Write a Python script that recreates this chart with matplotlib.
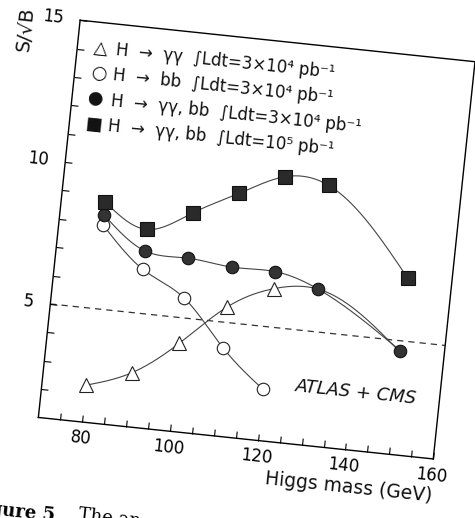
import numpy as np
import matplotlib
matplotlib.use("Agg")
import matplotlib.pyplot as plt
from matplotlib.transforms import Affine2D
import mpl_toolkits.axisartist.floating_axes as floating_axes
from mpl_toolkits.axisartist.grid_finder import FixedLocator, DictFormatter

# ---------------- data ----------------
mass_gg = [80, 90, 100, 110, 120, 130, 150]
sb_gg = [2.3, 2.9, 4.1, 5.55, 6.35, 6.5, 4.6]          # H -> gamma gamma, 3e4 pb^-1

mass_bb = [80, 90, 100, 110, 120]
sb_bb = [7.95, 6.55, 5.7, 4.1, 2.8]                     # H -> bb, 3e4 pb^-1

mass_comb = [80, 90, 100, 110, 120, 130, 150]
sb_comb_3e4 = [8.3, 7.2, 7.1, 6.95, 6.95, 6.5, 4.65]    # combined, 3e4 pb^-1
sb_comb_1e5 = [8.75, 7.95, 8.7, 9.55, 10.3, 10.15, 7.2] # combined, 1e5 pb^-1

x_range = (70, 160)
y_range = (1, 15)
x_ticks = list(range(75, 161, 5))
x_tick_labels = {80: "80", 100: "100", 120: "120", 140: "140", 160: "160"}
y_ticks = list(range(2, 16))
y_tick_labels = {5: "5", 10: "10", 15: "15"}
threshold = 5

legend_rows = [
    ("△", "H  →  γγ  ∫Ldt=3×10⁴ pb⁻¹"),
    ("○", "H  →  bb  ∫Ldt=3×10⁴ pb⁻¹"),
    ("●", "H  →  γγ, bb  ∫Ldt=3×10⁴ pb⁻¹"),
    ("■", "H  →  γγ, bb  ∫Ldt=10⁵ pb⁻¹"),
]


def natural_spline(x, y, n=300):
    x = np.asarray(x, float)
    y = np.asarray(y, float)
    k = len(x)
    h = np.diff(x)
    A = np.zeros((k, k))
    r = np.zeros(k)
    A[0, 0] = 1
    A[-1, -1] = 1
    for i in range(1, k - 1):
        A[i, i - 1] = h[i - 1]
        A[i, i] = 2 * (h[i - 1] + h[i])
        A[i, i + 1] = h[i]
        r[i] = 6 * ((y[i + 1] - y[i]) / h[i] - (y[i] - y[i - 1]) / h[i - 1])
    M = np.linalg.solve(A, r)
    xs = np.linspace(x[0], x[-1], n)
    idx = np.clip(np.searchsorted(x, xs) - 1, 0, k - 2)
    x0, x1 = x[idx], x[idx + 1]
    hh = x1 - x0
    t0 = x1 - xs
    t1 = xs - x0
    ys = (M[idx] * t0 ** 3 / (6 * hh) + M[idx + 1] * t1 ** 3 / (6 * hh)
          + (y[idx] / hh - M[idx] * hh / 6) * t0
          + (y[idx + 1] / hh - M[idx + 1] * hh / 6) * t1)
    return xs, ys


# ---------------- figure ----------------
W_PX, H_PX = 475, 518
fig = plt.figure(figsize=(W_PX / 100, H_PX / 100), dpi=100)
fig.patch.set_facecolor("white")

ANGLE = -6.0
tr = Affine2D().scale(4.5, 29.1).rotate_deg(ANGLE)

corners = tr.transform([[x_range[0], y_range[0]], [x_range[1], y_range[0]],
                        [x_range[0], y_range[1]], [x_range[1], y_range[1]]])
xmin, ymin = corners.min(axis=0)
xmax, ymax = corners.max(axis=0)
bl_px = (34, 97)  # display position of the lower-left corner
left_px = bl_px[0] - (corners[0, 0] - xmin)
bottom_px = bl_px[1] - (corners[0, 1] - ymin)
rect = [left_px / W_PX, bottom_px / H_PX, (xmax - xmin) / W_PX, (ymax - ymin) / H_PX]

grid_helper = floating_axes.GridHelperCurveLinear(
    tr, extremes=(x_range[0], x_range[1], y_range[0], y_range[1]),
    grid_locator1=FixedLocator(x_ticks), grid_locator2=FixedLocator(y_ticks),
    tick_formatter1=DictFormatter(x_tick_labels),
    tick_formatter2=DictFormatter(y_tick_labels))

ax = fig.add_axes(rect, axes_class=floating_axes.FloatingAxes, grid_helper=grid_helper)
ax.patch.set_visible(False)
for side in ["top", "right"]:
    ax.axis[side].major_ticks.set_visible(False)
    ax.axis[side].major_ticklabels.set_visible(False)
    ax.axis[side].line.set_linewidth(1.0)
for side in ["left", "bottom"]:
    ax.axis[side].major_ticks.set_ticksize(5)
    ax.axis[side].major_ticks.set_linewidth(0.9)
    ax.axis[side].major_ticklabels.set_fontsize(12)
    ax.axis[side].line.set_linewidth(1.0)
ax.axis["bottom"].major_ticklabels.set_pad(6)
ax.axis["left"].major_ticklabels.set_pad(12)

aux = ax.get_aux_axes(tr)

line_kw = dict(color="#444444", lw=0.8, zorder=2)

xs, ys = natural_spline(mass_gg, sb_gg)
aux.plot(xs, ys, **line_kw)
xs, ys = natural_spline(mass_bb, sb_bb)
aux.plot(xs, ys, **line_kw)
xs, ys = natural_spline(mass_comb, sb_comb_3e4)
aux.plot(xs, ys, **line_kw)
xs, ys = natural_spline(mass_comb, sb_comb_1e5)
aux.plot(xs, ys, **line_kw)

aux.plot([x_range[0], x_range[1]], [threshold, threshold], color="#333333",
         lw=0.9, ls=(0, (5, 4)), zorder=1)

aux.plot(mass_gg, sb_gg, ls="none", marker="^", ms=9.5, mfc="white", mec="#222222",
         mew=0.8, markevery=[0, 1, 2, 3, 4], zorder=3)
aux.plot(mass_bb, sb_bb, ls="none", marker="o", ms=9, mfc="white", mec="#222222",
         mew=0.8, zorder=3)
aux.plot(mass_comb, sb_comb_3e4, ls="none", marker="o", ms=9, mfc="#333333",
         mec="#111111", mew=0.8, zorder=4)
aux.plot(mass_comb, sb_comb_1e5, ls="none", marker="s", ms=9.5, mfc="#2a2a2a",
         mec="#111111", mew=0.8, zorder=4)

# legend rows
row_y = [14.08, 13.2, 12.3, 11.4]
for (glyph, label), yy in zip(legend_rows, row_y):
    aux.text(75.4, yy, glyph, fontsize=13, rotation=ANGLE, rotation_mode="anchor",
             ha="center", va="center", color="#111111")
    aux.text(78.8, yy, label, fontsize=12, rotation=ANGLE, rotation_mode="anchor",
             ha="left", va="center", color="#111111")

aux.text(141.1, 3.05, "ATLAS + CMS", fontsize=13, style="italic", rotation=ANGLE,
         rotation_mode="anchor", ha="center", va="center", color="#111111")
aux.text(141.5, -0.3, "Higgs mass (GeV)", fontsize=13.5, rotation=ANGLE,
         rotation_mode="anchor", ha="center", va="center", color="#111111")
aux.text(58.0, 14.5, "S/√B", fontsize=14, rotation=90 + ANGLE,
         rotation_mode="anchor", ha="center", va="center", color="#111111")

# caption fragment at bottom of the scanned page
fig.text(-31 / W_PX, 6 / H_PX, "Figure 5.", fontsize=13, fontweight="bold",
         family="DejaVu Serif", rotation=ANGLE, rotation_mode="anchor",
         ha="left", va="baseline")
fig.text(78 / W_PX, -2 / H_PX, "The an", fontsize=13, family="DejaVu Serif",
         rotation=ANGLE, rotation_mode="anchor", ha="left", va="baseline")

fig.savefig("out.png", dpi=100)
